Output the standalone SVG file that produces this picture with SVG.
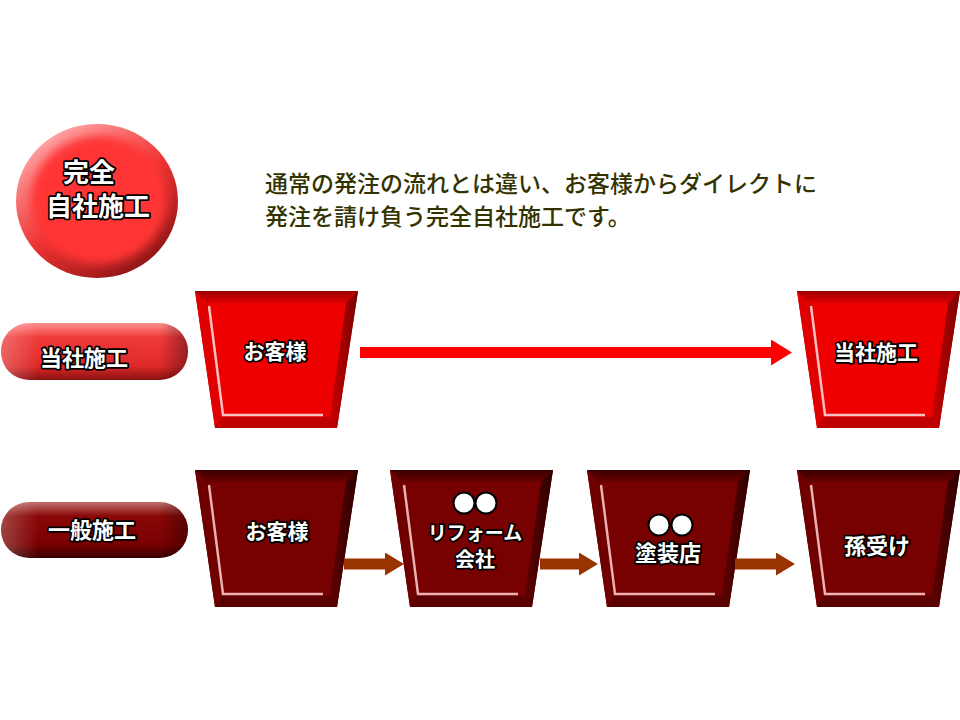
<svg xmlns="http://www.w3.org/2000/svg" xmlns:xlink="http://www.w3.org/1999/xlink" width="960" height="720" viewBox="0 0 960 720">
  <style>
    .lbl { font-family: "Noto Sans CJK JP", "Noto Sans", sans-serif; font-weight: bold; fill: #ffffff; stroke: #000000; stroke-width: 3.5; paint-order: stroke; stroke-linejoin: round; text-anchor: middle; }
    .desc { font-family: "Noto Sans CJK JP", "Noto Sans", sans-serif; font-weight: 500; fill: #333300; font-size: 23px; }
  </style>
  <defs>
    <linearGradient id="gTopR" x1="0" y1="0" x2="0" y2="1"><stop offset="0" stop-color="#9a0000"/><stop offset="1" stop-color="#dd0000"/></linearGradient>
    <linearGradient id="gRightR" x1="1" y1="0" x2="0" y2="0"><stop offset="0" stop-color="#7a0000"/><stop offset="1" stop-color="#c80000"/></linearGradient>
    <linearGradient id="gTopD" x1="0" y1="0" x2="0" y2="1"><stop offset="0" stop-color="#3a0000"/><stop offset="1" stop-color="#6a0000"/></linearGradient>
    <linearGradient id="gRightD" x1="1" y1="0" x2="0" y2="0"><stop offset="0" stop-color="#2e0000"/><stop offset="1" stop-color="#5e0000"/></linearGradient>
    <linearGradient id="gPillR" x1="0" y1="0" x2="0" y2="1"><stop offset="0" stop-color="#ff9090"/><stop offset="0.25" stop-color="#f03a3a"/><stop offset="0.75" stop-color="#e02a2a"/><stop offset="1" stop-color="#8a1010"/></linearGradient>
    <linearGradient id="gPillD" x1="0" y1="0" x2="0" y2="1"><stop offset="0" stop-color="#c07070"/><stop offset="0.25" stop-color="#8a0808"/><stop offset="0.75" stop-color="#7a0000"/><stop offset="1" stop-color="#3a0000"/></linearGradient>
    <linearGradient id="gPillShadeR" x1="0" y1="0" x2="1" y2="0"><stop offset="0" stop-color="#ffffff" stop-opacity="0.25"/><stop offset="0.2" stop-color="#ffffff" stop-opacity="0"/><stop offset="0.85" stop-color="#000000" stop-opacity="0"/><stop offset="1" stop-color="#000000" stop-opacity="0.35"/></linearGradient>
    <linearGradient id="gCircle" x1="0.2" y1="0.1" x2="0.8" y2="0.95"><stop offset="0" stop-color="#ffa0a0"/><stop offset="0.5" stop-color="#ee3333"/><stop offset="1" stop-color="#8a1414"/></linearGradient>
    <filter id="blur4" x="-20%" y="-20%" width="140%" height="140%"><feGaussianBlur stdDeviation="5"/></filter>
    <marker id="headRed" markerUnits="userSpaceOnUse" markerWidth="22" markerHeight="26" refX="1" refY="13" orient="auto">
      <path d="M0,0 L21,13 L0,26 z" fill="#ff0000"/>
    </marker>
    <marker id="headBrown" markerUnits="userSpaceOnUse" markerWidth="20" markerHeight="23" refX="1" refY="11.5" orient="auto">
      <path d="M0,0 L19,11.5 L0,23 z" fill="#993300"/>
    </marker>
    <g id="trapRed">
      <polygon points="0,0 163,0 142,137 20,137" fill="#b00000"/>
      <polygon points="0,0 163,0 151,12 12,12" fill="url(#gTopR)"/>
      <polygon points="163,0 142,137 135,126 151,12" fill="url(#gRightR)"/>
      <polygon points="20,137 142,137 135,126 27,126" fill="#c00000"/>
      <polygon points="0,0 12,12 27,126 20,137" fill="#e00000"/>
      <polygon points="12,12 151,12 135,126 27,126" fill="#ee0000"/>
      <polyline points="14,15 28,124 128,124" fill="none" stroke="#ffe0e0" stroke-width="2.5" opacity="0.85"/>
    </g>
    <g id="trapDark">
      <polygon points="0,0 163,0 142,137 20,137" fill="#500000"/>
      <polygon points="0,0 163,0 151,12 12,12" fill="url(#gTopD)"/>
      <polygon points="163,0 142,137 135,126 151,12" fill="url(#gRightD)"/>
      <polygon points="20,137 142,137 135,126 27,126" fill="#5a0000"/>
      <polygon points="0,0 12,12 27,126 20,137" fill="#700000"/>
      <polygon points="12,12 151,12 135,126 27,126" fill="#770000"/>
      <polyline points="14,15 28,124 128,124" fill="none" stroke="#ffd0d0" stroke-width="2.5" opacity="0.85"/>
    </g>
  </defs>

  <rect width="960" height="720" fill="#ffffff"/>

  <g id="badge">
    <ellipse cx="97" cy="201" rx="81" ry="77" fill="url(#gCircle)"/>
    <ellipse cx="99" cy="200" rx="68" ry="64" fill="#ff3434" filter="url(#blur4)"/>
    <text class="lbl" x="89" y="182" font-size="26">完全</text>
    <text class="lbl" x="98" y="216" font-size="26">自社施工</text>
  </g>

  <g id="description">
    <text class="desc" x="265" y="192">通常の発注の流れとは違い、お客様からダイレクトに</text>
    <text class="desc" x="265" y="225">発注を請け負う完全自社施工です。</text>
  </g>

  <g id="pill-own">
    <rect x="1" y="323" width="187" height="57" rx="28" ry="28" fill="url(#gPillR)"/>
    <rect x="1" y="323" width="187" height="57" rx="28" ry="28" fill="url(#gPillShadeR)"/>
    <text class="lbl" x="84" y="366" font-size="22">当社施工</text>
  </g>

  <g id="pill-general">
    <rect x="1" y="502" width="187" height="56" rx="28" ry="28" fill="url(#gPillD)"/>
    <rect x="1" y="502" width="187" height="56" rx="28" ry="28" fill="url(#gPillShadeR)"/>
    <text class="lbl" x="92" y="538" font-size="22">一般施工</text>
  </g>

  <g id="node-customer-own" transform="translate(195,291)">
    <use xlink:href="#trapRed"/>
    <text class="lbl" x="80" y="68" font-size="21">お客様</text>
  </g>

  <g id="node-own-work" transform="translate(797,291)">
    <use xlink:href="#trapRed"/>
    <text class="lbl" x="79" y="69" font-size="21">当社施工</text>
  </g>

  <g id="node-customer-general" transform="translate(195,470)">
    <use xlink:href="#trapDark"/>
    <text class="lbl" x="82" y="69" font-size="21">お客様</text>
  </g>

  <g id="node-reform" transform="translate(390,470)">
    <use xlink:href="#trapDark"/>
    <circle cx="74" cy="33" r="10.5" fill="#ffffff" stroke="#000000" stroke-width="2"/>
    <circle cx="96" cy="33" r="10.5" fill="#ffffff" stroke="#000000" stroke-width="2"/>
    <text class="lbl" x="85" y="70" font-size="19">リフォーム</text>
    <text class="lbl" x="85" y="97" font-size="20">会社</text>
  </g>

  <g id="node-painter" transform="translate(587,470)">
    <use xlink:href="#trapDark"/>
    <circle cx="72" cy="55" r="10.5" fill="#ffffff" stroke="#000000" stroke-width="2"/>
    <circle cx="95" cy="55" r="10.5" fill="#ffffff" stroke="#000000" stroke-width="2"/>
    <text class="lbl" x="81" y="91" font-size="22">塗装店</text>
  </g>

  <g id="node-subcontract" transform="translate(797,470)">
    <use xlink:href="#trapDark"/>
    <text class="lbl" x="80" y="84" font-size="22">孫受け</text>
  </g>

  <g id="connectors">
    <line x1="360" y1="352.5" x2="772" y2="352.5" stroke="#ff0000" stroke-width="11" marker-end="url(#headRed)"/>
    <line x1="344" y1="564" x2="386" y2="564" stroke="#993300" stroke-width="11" marker-end="url(#headBrown)"/>
    <line x1="540" y1="564" x2="580" y2="564" stroke="#993300" stroke-width="11" marker-end="url(#headBrown)"/>
    <line x1="735" y1="564" x2="777" y2="564" stroke="#993300" stroke-width="11" marker-end="url(#headBrown)"/>
  </g>
</svg>
